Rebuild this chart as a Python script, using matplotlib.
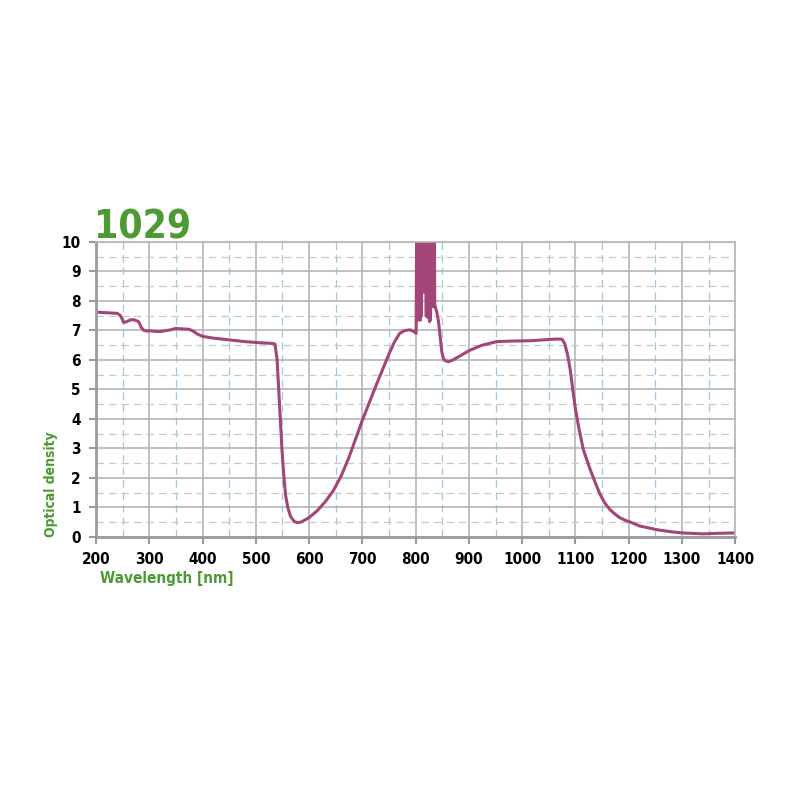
import matplotlib
matplotlib.use('Agg')
import matplotlib.pyplot as plt
from matplotlib.ticker import MultipleLocator

plt.rcParams['font.family'] = ['DejaVu Sans']
plt.rcParams['font.stretch'] = 'condensed'
plt.rcParams['font.weight'] = 'bold'

# spectrum (nm, optical density)
wl = [200, 220, 240, 246, 252, 258, 265, 272, 280, 285, 290, 295, 300, 310, 320,
      330, 340, 350, 355, 365, 375, 382, 390, 400, 420, 450, 480, 510, 530, 536,
      540, 543, 546, 549, 552, 556, 560, 565, 572, 578, 585, 600, 615, 630, 645,
      660, 675, 700, 725, 750, 760, 770, 780, 790, 798, 801]
od = [7.62, 7.6, 7.58, 7.5, 7.27, 7.3, 7.36, 7.36, 7.3, 7.1, 7.0, 6.98, 6.99, 6.97, 6.96,
      6.99, 7.02, 7.07, 7.06, 7.05, 7.04, 6.98, 6.88, 6.8, 6.74, 6.68, 6.62, 6.58, 6.56, 6.54,
      6.0, 5.0, 4.0, 3.0, 2.2, 1.4, 1.0, 0.7, 0.52, 0.48, 0.5, 0.65, 0.88, 1.18, 1.55,
      2.05, 2.7, 3.95, 5.1, 6.2, 6.6, 6.9, 7.0, 7.02, 6.95, 6.9]

# noisy band between ~800 and ~850 nm (saturates above 10)
wl_noise = [802, 803, 804, 805, 806, 807, 808, 809, 810, 811, 812, 813, 814, 815,
            816, 817, 818, 819, 820, 821, 822, 823, 824, 825, 826, 827, 828, 829,
            830, 831, 832, 833, 834, 835, 836, 837, 840, 843, 846, 849, 852, 856,
            862]
od_noise = [10.5, 7.4, 10.5, 7.35, 10.5, 7.4, 10.5, 7.35, 10.5, 7.5, 10.5, 10.5, 8.4, 8.3,
            8.3, 8.4, 10.5, 10.5, 7.5, 10.5, 7.45, 10.5, 7.5, 10.5, 7.3, 10.5, 7.35, 10.5,
            7.8, 10.5, 7.85, 10.5, 7.8, 10.5, 7.8, 7.8, 7.6, 7.3, 6.8, 6.3, 6.05, 5.97,
            5.94]

wl_tail = [870, 880, 902, 925, 952, 980, 1015, 1040, 1065, 1075, 1080, 1085, 1090,
           1095, 1100, 1106, 1115, 1128, 1137, 1146, 1155, 1165, 1175, 1184, 1195,
           1203, 1220, 1253, 1280, 1302, 1340, 1370, 1396, 1400]
od_tail = [6.0, 6.1, 6.33, 6.5, 6.62, 6.64, 6.65, 6.68, 6.71, 6.7, 6.55, 6.2, 5.7,
           5.0, 4.35, 3.73, 2.95, 2.27, 1.85, 1.45, 1.15, 0.92, 0.76, 0.64, 0.55,
           0.5, 0.37, 0.24, 0.17, 0.13, 0.1, 0.12, 0.13, 0.13]

x = wl + wl_noise + wl_tail
y = od + od_noise + od_tail

green = '#4b9a33'
curve = '#a24578'

fig = plt.figure(figsize=(8, 8), dpi=100)
ax = fig.add_axes([0.12, 0.329, 0.799, 0.3685])

ax.set_xlim(200, 1400)
ax.set_ylim(0, 10)
ax.xaxis.set_major_locator(MultipleLocator(100))
ax.xaxis.set_minor_locator(MultipleLocator(50))
ax.yaxis.set_major_locator(MultipleLocator(1))
ax.yaxis.set_minor_locator(MultipleLocator(0.5))

ax.grid(which='major', color='#b5b5b5', lw=1.2)
ax.grid(which='minor', axis='y', color='#c8c8c8', lw=0.9, ls=(0, (6, 4)))
ax.grid(which='minor', axis='x', color='#9cc8e0', lw=0.9, ls=(0, (6, 4)))
ax.set_axisbelow(True)

for side in ['top', 'right']:
    ax.spines[side].set_color('#b5b5b5')
    ax.spines[side].set_linewidth(1.2)
for side in ['left', 'bottom']:
    ax.spines[side].set_color('#9a9a9a')
    ax.spines[side].set_linewidth(2)

ax.tick_params(which='major', length=5, width=1.5, color='#9a9a9a', labelsize=11)
ax.tick_params(axis='x', pad=6)
ax.tick_params(axis='y', pad=6)
ax.tick_params(which='minor', length=0)

ax.plot(x, y, color=curve, lw=2.2)

ax.text(-0.003, 1.013, '1029', transform=ax.transAxes, fontsize=28,
        color=green, ha='left', va='baseline')
ax.text(0.007, -0.117, 'Wavelength [nm]', transform=ax.transAxes, fontsize=11,
        color=green, ha='left', va='top')
ax.text(-0.07, 0.0, 'Optical density', transform=ax.transAxes, fontsize=10,
        color=green, ha='center', va='bottom', rotation=90)

fig.savefig('out.png', dpi=100)
